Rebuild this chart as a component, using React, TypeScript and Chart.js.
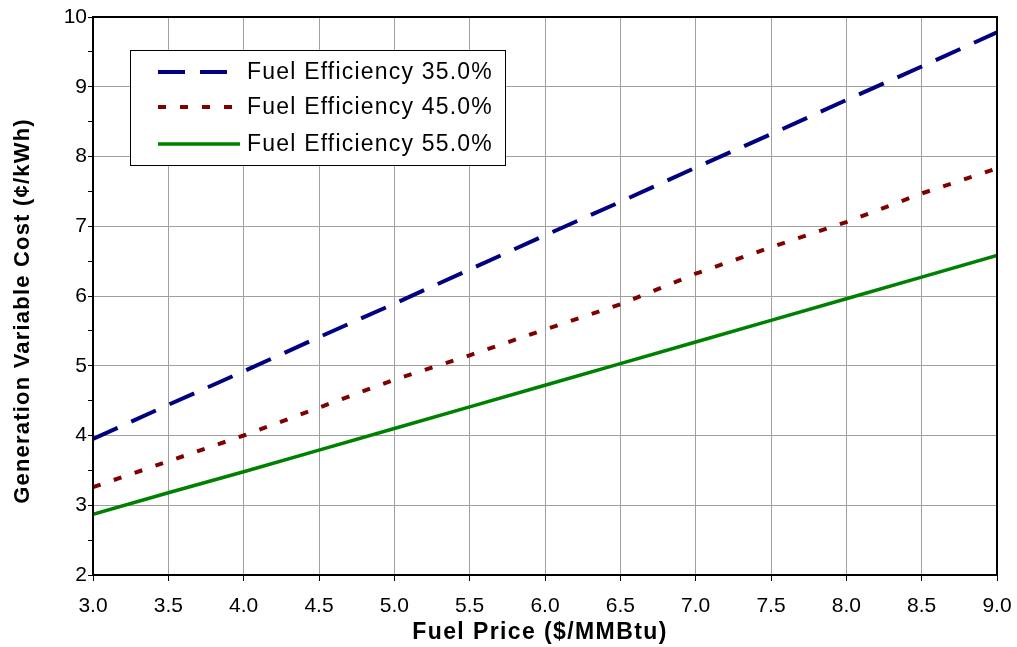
import React, { useEffect, useRef } from "react";
import { Chart, registerables } from "chart.js";

Chart.register(...registerables);

const fuelPrices = [3.0, 3.5, 4.0, 4.5, 5.0, 5.5, 6.0, 6.5, 7.0, 7.5, 8.0, 8.5, 9.0];
const eff35 = [3.95, 4.44, 4.92, 5.41, 5.89, 6.38, 6.87, 7.35, 7.84, 8.32, 8.81, 9.29, 9.78];
const eff45 = [3.26, 3.63, 4.0, 4.4, 4.8, 5.15, 5.52, 5.88, 6.32, 6.7, 7.06, 7.47, 7.83];
const eff55 = [2.87, 3.18, 3.48, 3.79, 4.1, 4.41, 4.72, 5.03, 5.34, 5.65, 5.96, 6.27, 6.58];
const seriesLabels = ["Fuel Efficiency 35.0%", "Fuel Efficiency 45.0%", "Fuel Efficiency 55.0%"];
const xTitle = "Fuel Price ($/MMBtu)";
const yTitle = "Generation Variable Cost (\u00A2/kWh)";

const FONT = "Arial, 'Liberation Sans', sans-serif";

export default function App() {
  const ref = useRef<HTMLCanvasElement>(null);
  useEffect(() => {
    if (!ref.current) return;
    const styles = [
      { color: "#000080", dash: [27, 15], width: 4 },
      { color: "#800000", dash: [8, 14], width: 4 },
      { color: "#008000", dash: [] as number[], width: 3.5 },
    ];
    const seriesData = [eff35, eff45, eff55];

    const borderPlugin = {
      id: "boxBorder",
      afterDatasetsDraw(chart: any) {
        const { ctx, chartArea: a } = chart;
        ctx.save();
        ctx.strokeStyle = "#000";
        ctx.lineWidth = 2;
        ctx.strokeRect(a.left, a.top, a.right - a.left, a.bottom - a.top);
        ctx.restore();
      },
      afterDraw(chart: any) {
        const { ctx } = chart;
        ctx.save();
        // legend box
        const bx = 130, by = 50, bw = 375, bh = 115;
        ctx.fillStyle = "#fff";
        ctx.fillRect(bx, by, bw, bh);
        ctx.strokeStyle = "#000";
        ctx.lineWidth = 1;
        ctx.strokeRect(bx + 0.5, by + 0.5, bw, bh);
        const rows = [72, 107, 144];
        ctx.font = `23px ${FONT}`;
        (ctx as any).letterSpacing = "1.2px";
        ctx.textBaseline = "middle";
        for (let i = 0; i < 3; i++) {
          const s = styles[i];
          ctx.strokeStyle = s.color;
          ctx.lineWidth = s.width;
          ctx.setLineDash(s.dash);
          ctx.beginPath();
          ctx.moveTo(158, rows[i]);
          ctx.lineTo(i === 1 ? 246 : 240, rows[i]);
          ctx.stroke();
          ctx.setLineDash([]);
          ctx.fillStyle = "#000";
          ctx.fillText(seriesLabels[i], 247, rows[i] + 1);
        }
        // x title
        ctx.textAlign = "center";
        ctx.font = `bold 23px ${FONT}`;
        (ctx as any).letterSpacing = "1.4px";
        ctx.fillText(xTitle, 540, 633);
        // y title
        ctx.font = `bold 22px ${FONT}`;
        (ctx as any).letterSpacing = "1.2px";
        ctx.translate(23, 311);
        ctx.rotate(-Math.PI / 2);
        ctx.fillText(yTitle, 0, 0);
        ctx.restore();
      },
    };

    const chart = new Chart(ref.current, {
      type: "line",
      data: {
        labels: fuelPrices,
        datasets: seriesData.map((d, i) => ({
          label: seriesLabels[i],
          data: d.map((v, j) => ({ x: fuelPrices[j], y: v })),
          borderColor: styles[i].color,
          borderWidth: styles[i].width,
          borderDash: styles[i].dash,
          pointRadius: 0,
          tension: 0,
          fill: false,
        })),
      },
      options: {
        animation: false,
        responsive: false,
        maintainAspectRatio: false,
        layout: { padding: { left: 0, top: 17, right: 20, bottom: 0 } },
        plugins: {
          legend: { display: false },
          tooltip: { enabled: false },
        },
        scales: {
          x: {
            type: "linear",
            min: 3,
            max: 9,
            afterFit: (s: any) => {
              s.height = 72;
              s.paddingLeft = 0;
              s.paddingRight = 0;
            },
            ticks: {
              stepSize: 0.5,
              color: "#000",
              font: { family: FONT, size: 21 },
              padding: 13,
              callback: (v: any) => Number(v).toFixed(1),
            },
            grid: { color: "#a0a0a0", lineWidth: 1, tickLength: 6, tickColor: "#000" },
            border: { display: false },
          },
          y: {
            min: 2,
            max: 10,
            afterFit: (s: any) => {
              s.width = 93;
              s.paddingTop = 0;
              s.paddingBottom = 0;
            },
            ticks: {
              stepSize: 0.5,
              color: "#000",
              font: { family: FONT, size: 21 },
              padding: 1,
              autoSkip: false,
              callback: (v: any) => (Number.isInteger(Number(v)) ? String(v) : ""),
            },
            grid: {
              color: (c: any) => (Number.isInteger(c.tick?.value) ? "#a0a0a0" : "rgba(0,0,0,0)"),
              lineWidth: 1,
              tickLength: 5,
              tickColor: "#000",
            },
            border: { display: false },
          },
        },
      },
      plugins: [borderPlugin],
    });
    return () => chart.destroy();
  }, []);

  return (
    <div style={{ position: "absolute", left: 0, top: 0, width: 1017, height: 647, background: "#fff" }}>
      <canvas ref={ref} width={1017} height={647} style={{ width: 1017, height: 647 }} />
    </div>
  );
}
